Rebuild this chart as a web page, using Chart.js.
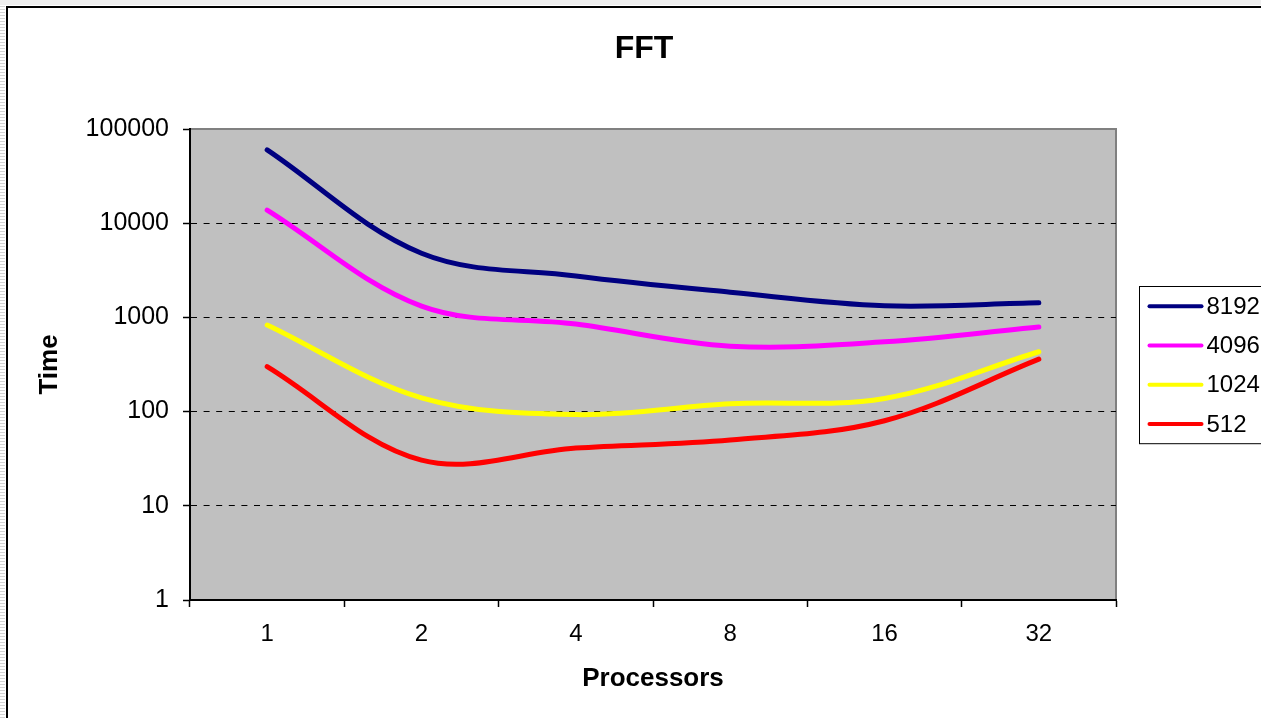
<!DOCTYPE html>
<html>
<head>
<meta charset="utf-8">
<title>FFT</title>
<script src="https://cdn.jsdelivr.net/npm/chart.js@4"></script>
<style>
  html, body { margin: 0; padding: 0; background: #fff; overflow: hidden; }
  #wrap { width: 1261px; height: 718px; position: relative; }
</style>
</head>
<body>
<div id="wrap"><canvas id="fftChart"></canvas></div>
<script>
// processors on the x axis
const processors = ['1', '2', '4', '8', '16', '32'];
const yTicks = [1, 10, 100, 1000, 10000, 100000];
const titleText = 'FFT';

// time per problem size
const size8192 = [60000, 4800, 2750, 1850, 1330, 1430];
const size4096 = [13800, 1320, 850, 495, 550, 790];
const size1024 = [830, 140, 93, 121, 138, 432];
const size512 = [300, 30.5, 41, 50, 80, 360];

const seriesNames = ['8192', '4096', '1024', '512'];
const seriesColors = ['#000080', '#FF00FF', '#FFFF00', '#FF0000'];

const FONT = "'Liberation Sans', Arial, sans-serif";

// page frame, title, plot background and the boxed legend
// (the frame runs past the right edge of the window, so the title sits a bit right of centre)
const excelLook = {
    id: 'excelLook',
    beforeDraw(chart) {
        const ctx = chart.ctx;
        const a = chart.chartArea;
        ctx.save();
        // strip above and left of the frame
        ctx.fillStyle = '#efefef';
        ctx.fillRect(0, 0, chart.width, 5);
        ctx.fillStyle = '#ffffff';
        ctx.fillRect(0, 5, 6, chart.height);
        ctx.fillStyle = '#d4d4d4';
        for (let y = 6; y < chart.height; y += 3) {
            ctx.fillRect(0, y, 5, 1);
        }
        // frame
        ctx.strokeStyle = '#000';
        ctx.lineWidth = 2;
        ctx.beginPath();
        ctx.moveTo(7, chart.height + 2);
        ctx.lineTo(7, 7);
        ctx.lineTo(chart.width + 2, 7);
        ctx.stroke();
        // title
        ctx.fillStyle = '#000';
        ctx.font = 'bold 32px ' + FONT;
        ctx.textAlign = 'center';
        ctx.textBaseline = 'middle';
        ctx.fillText(titleText, (7 + chart.width + 20) / 2, 49);
        // plot area
        ctx.fillStyle = '#C0C0C0';
        ctx.fillRect(a.left, a.top, a.right - a.left, a.bottom - a.top);
        ctx.strokeStyle = '#808080';
        ctx.lineWidth = 2;
        ctx.beginPath();
        ctx.moveTo(a.left, a.top);
        ctx.lineTo(a.right, a.top);
        ctx.lineTo(a.right, a.bottom);
        ctx.stroke();
        ctx.restore();
    },
    afterDraw(chart) {
        const ctx = chart.ctx;
        const a = chart.chartArea;
        const sets = chart.data.datasets;
        const rowH = 39.3;
        const boxH = rowH * sets.length;
        const left = a.right + 23.5;
        const top = Math.round((a.top + a.bottom) / 2 - boxH / 2) + 0.5;
        ctx.save();
        ctx.fillStyle = '#fff';
        ctx.fillRect(left, top, chart.width - left + 5, boxH);
        ctx.strokeStyle = '#000';
        ctx.lineWidth = 1;
        ctx.strokeRect(left, top, chart.width - left + 5, boxH);
        ctx.font = '24px ' + FONT;
        ctx.textBaseline = 'middle';
        ctx.textAlign = 'left';
        sets.forEach((ds, i) => {
            const y = top + rowH / 2 + i * rowH;
            ctx.strokeStyle = ds.borderColor;
            ctx.lineWidth = 4;
            ctx.lineCap = 'round';
            ctx.beginPath();
            ctx.moveTo(left + 10, y);
            ctx.lineTo(left + 62, y);
            ctx.stroke();
            ctx.fillStyle = '#000';
            ctx.fillText(ds.label, left + 67, y + 1);
        });
        ctx.restore();
    }
};

const seriesData = [size8192, size4096, size1024, size512];

const chart = new Chart(document.getElementById('fftChart'), {
    type: 'line',
    data: {
        labels: processors,
        datasets: seriesNames.map((name, i) => ({
            label: name,
            data: seriesData[i],
            borderColor: seriesColors[i],
            backgroundColor: seriesColors[i],
            borderWidth: 5,
            borderCapStyle: 'round',
            borderJoinStyle: 'round',
            pointRadius: 0,
            tension: 0.35,
            fill: false
        }))
    },
    options: {
        responsive: true,
        maintainAspectRatio: false,
        animation: false,
        devicePixelRatio: 1,
        layout: { padding: { left: 0, top: 129, right: 145, bottom: 0 } },
        plugins: {
            legend: { display: false },
            tooltip: { enabled: false },
            title: { display: false }
        },
        scales: {
            x: {
                type: 'category',
                offset: true,
                afterFit(scale) { scale.height = 118; },
                grid: {
                    offset: true,
                    drawOnChartArea: false,
                    drawTicks: true,
                    tickLength: 7,
                    tickColor: '#000',
                    tickWidth: 1.5
                },
                border: { display: true, color: '#000', width: 2 },
                ticks: {
                    color: '#000',
                    padding: 13,
                    maxRotation: 0,
                    font: { family: FONT, size: 24 }
                },
                title: {
                    display: true,
                    text: 'Processors',
                    color: '#000',
                    font: { family: FONT, size: 26, weight: 'bold' },
                    padding: { top: 0, bottom: 24 }
                }
            },
            y: {
                type: 'logarithmic',
                min: 1,
                max: 100000,
                afterFit(scale) { scale.width = 190; },
                afterBuildTicks(scale) {
                    scale.ticks = yTicks.map(v => ({ value: v }));
                },
                grid: {
                    color: ctx => (ctx.tick && (ctx.tick.value === 1 || ctx.tick.value === 100000)) ? 'rgba(0,0,0,0)' : '#000',
                    lineWidth: 1,
                    tickLength: 7,
                    tickColor: '#000',
                    tickWidth: 1.5
                },
                border: { display: true, color: '#000', width: 2, dash: [6, 6.6] },
                ticks: {
                    color: '#000',
                    padding: 14,
                    font: { family: FONT, size: 25 },
                    callback: v => String(v)
                },
                title: {
                    display: true,
                    text: 'Time',
                    color: '#000',
                    font: { family: FONT, size: 26, weight: 'bold' },
                    padding: { top: 34.4, bottom: 0 }
                }
            }
        }
    },
    plugins: [excelLook]
});
</script>
</body>
</html>
